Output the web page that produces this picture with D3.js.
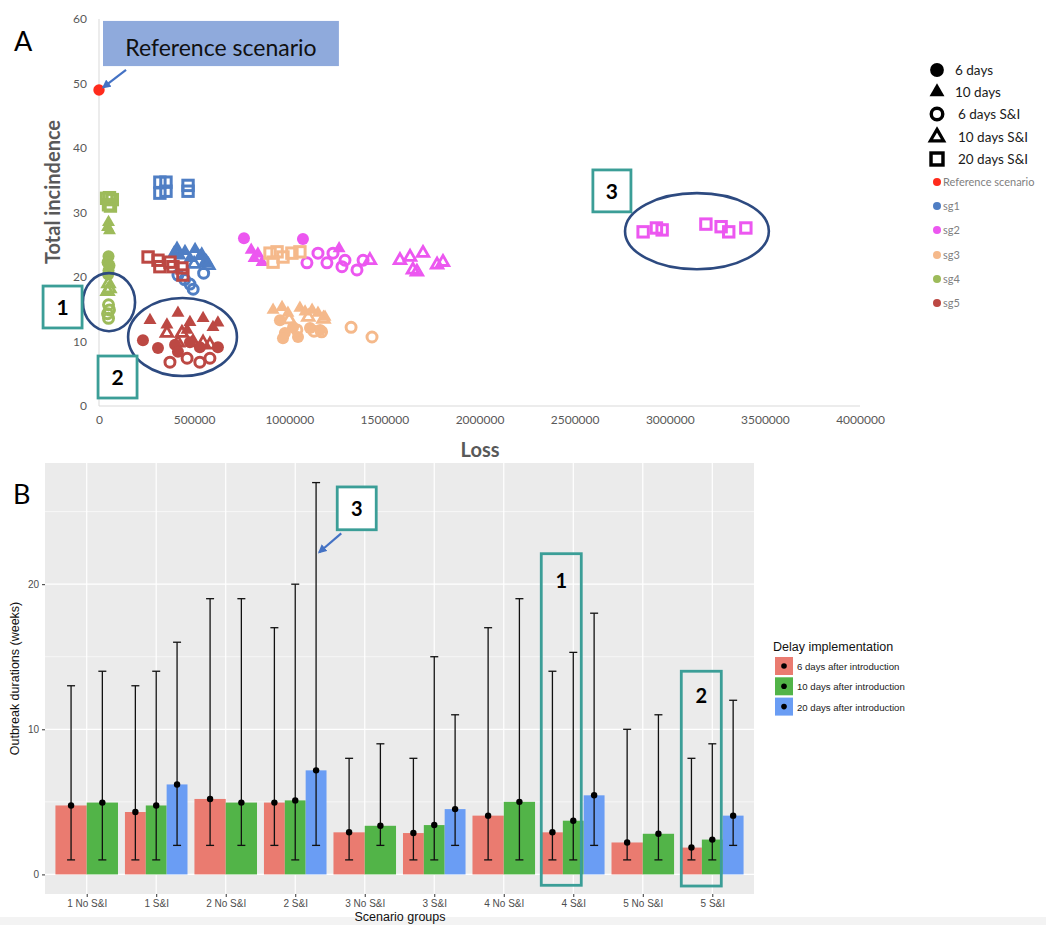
<!DOCTYPE html>
<html><head><meta charset="utf-8">
<script src="https://cdn.jsdelivr.net/npm/d3@7"></script>
<style>body{margin:0;background:#fff}svg{display:block}</style>
</head><body>
<svg id="c" width="1046" height="925"></svg>
<script>
// ---------- Panel A data: [delay, loss, total incidence] ----------
const lossTicks = [0,500000,1000000,1500000,2000000,2500000,3000000,3500000,4000000];
const incTicks = [0,10,20,30,40,50,60];
const delayTypes = ["6 days","10 days","6 days S&I","10 days S&I","20 days S&I"];
const seriesNames = ["Reference scenario","sg1","sg2","sg3","sg4","sg5"];

const refScenario = [["6 days",0,49]];
const sg1 = [
 ["20 days S&I",320000,34.7],["20 days S&I",352000,34.7],["20 days S&I",320000,33.0],["20 days S&I",352000,33.3],["20 days S&I",468000,34.2],["20 days S&I",468000,33.3],
 ["10 days",410000,24.5],["10 days",452000,24.0],["10 days",505000,24.3],["10 days",540000,23.6],["10 days",425000,23.3],["10 days",478000,22.9],["10 days",530000,23.2],["10 days",565000,22.5],["10 days",395000,23.8],
 ["10 days S&I",560000,22.3],["10 days S&I",575000,21.8],["10 days S&I",500000,22.0],
 ["6 days S&I",550000,20.6],["6 days S&I",450000,19.6],["6 days S&I",478000,18.9],["6 days S&I",495000,18.1],["6 days S&I",415000,20.3]
];
const sg2 = [
 ["6 days",762000,26.0],["6 days",1072000,25.9],
 ["10 days",800000,24.2],["10 days",835000,23.6],["10 days",857000,22.3],["10 days",815000,22.9],["10 days",1262000,24.4],
 ["6 days S&I",1093000,22.2],["6 days S&I",1151000,23.7],["6 days S&I",1198000,22.2],["6 days S&I",1230000,23.7],["6 days S&I",1277000,21.6],["6 days S&I",1293000,22.6],["6 days S&I",1356000,21.1],["6 days S&I",1388000,22.6],
 ["10 days S&I",1424000,22.6],["10 days S&I",1582000,22.6],["10 days S&I",1635000,23.1],["10 days S&I",1703000,23.7],["10 days S&I",1650000,21.1],["10 days S&I",1671000,20.8],["10 days S&I",1777000,21.9],["10 days S&I",1808000,22.3],
 ["20 days S&I",2860000,27.0],["20 days S&I",2930000,27.6],["20 days S&I",2960000,27.3],["20 days S&I",3190000,28.2],["20 days S&I",3270000,27.8],["20 days S&I",3310000,27.0],["20 days S&I",3400000,27.6]
];
const sg3 = [
 ["20 days S&I",899000,23.7],["20 days S&I",936000,23.9],["20 days S&I",967000,23.1],["20 days S&I",1014000,23.7],["20 days S&I",1056000,23.9],["20 days S&I",915000,22.3],
 ["10 days",915000,14.9],["10 days",962000,15.3],["10 days",993000,14.4],["10 days",1056000,15.2],["10 days",1083000,14.6],["10 days",1120000,14.9],["10 days",1151000,14.4],["10 days",1188000,13.8],
 ["10 days S&I",1000000,13.4],["10 days S&I",1100000,13.8],["10 days S&I",1180000,13.5],
 ["6 days",951000,13.3],["6 days",977000,11.3],["6 days",1020000,12.2],["6 days",1046000,10.7],["6 days",1109000,12.1],["6 days",1162000,11.8],["6 days",967000,10.5],
 ["6 days S&I",1040000,11.8],["6 days S&I",1130000,11.6],["6 days S&I",1170000,11.5],["6 days S&I",1325000,12.2],["6 days S&I",1435000,10.7]
];
const sg4 = [
 ["20 days S&I",40000,32.2],["20 days S&I",55000,32.3],["20 days S&I",70000,32.0],["20 days S&I",50000,31.2],["20 days S&I",60000,31.0],
 ["10 days",50000,28.5],["10 days",45000,27.7],["10 days",55000,27.2],
 ["6 days",50000,23.2],["6 days",45000,22.3],["6 days",55000,21.8],["6 days",50000,21.0],["6 days",48000,20.4],
 ["10 days S&I",50000,19.0],["10 days S&I",55000,18.2],["10 days S&I",45000,17.8],
 ["6 days S&I",50000,15.7],["6 days S&I",55000,14.9],["6 days S&I",45000,14.3],["6 days S&I",50000,13.6]
];
const sg5 = [
 ["20 days S&I",258000,23.1],["20 days S&I",310000,22.6],["20 days S&I",373000,22.3],["20 days S&I",320000,21.6],["20 days S&I",389000,21.6],["20 days S&I",436000,21.4],["20 days S&I",441000,20.3],
 ["10 days",268000,13.3],["10 days",415000,14.4],["10 days",478000,13.0],["10 days",547000,13.6],["10 days",625000,12.9],["10 days",357000,12.6],["10 days",463000,11.8],["10 days",599000,12.2],
 ["10 days S&I",357000,11.3],["10 days S&I",436000,11.3],["10 days S&I",494000,9.9],["10 days S&I",547000,9.8],["10 days S&I",583000,9.5],["10 days S&I",415000,9.8],
 ["6 days",231000,10.2],["6 days",310000,9.0],["6 days",400000,9.5],["6 days",478000,9.9],["6 days",530000,9.1],["6 days",625000,9.1],["6 days",415000,8.4],
 ["6 days S&I",373000,6.8],["6 days S&I",463000,7.4],["6 days S&I",530000,6.8],["6 days S&I",583000,7.4]
];

// ---------- Panel B data ----------
const scenarioGroups = ["1 No S&I","1 S&I","2 No S&I","2 S&I","3 No S&I","3 S&I","4 No S&I","4 S&I","5 No S&I","5 S&I"];
const delayLabels = ["6 days after introduction","10 days after introduction","20 days after introduction"];
const durTicks = [0,10,20];
const mean6  = [4.75,4.3,5.2,4.95,2.9,2.85,4.05,2.9,2.2,1.85];
const low6   = [1,1,2,2,1,1,1,1,1,1];
const high6  = [13,13,19,17,8,8,17,14,10,8];
const mean10 = [4.95,4.75,4.95,5.1,3.35,3.4,5.0,3.7,2.8,2.4];
const low10  = [1,1,2,1,2,1,1,1,1,1];
const high10 = [14,14,19,20,9,15,19,15.3,11,9];
const mean20 = [null,6.2,null,7.17,null,4.5,null,5.45,null,4.05];
const low20  = [null,2,null,2,null,2,null,2,null,2];
const high20 = [null,16,null,27,null,11,null,18,null,12];

// ---------- drawing ----------
const svg = d3.select("#c");
const fA = "Lato, 'Open Sans', sans-serif";
const fB = "'Liberation Sans', Arial, sans-serif";
const colA = {"Reference scenario":"#FF2B1C","sg1":"#4F7EC4","sg2":"#EC57F0","sg3":"#F5B98B","sg4":"#9DBB5A","sg5":"#BC4843"};
const teal = "#3B9E97", navy = "#2D4A80", arrowCol = "#4472C4";

svg.append("defs").append("marker").attr("id","ah").attr("viewBox","0 0 10 10")
  .attr("refX",8).attr("refY",5).attr("markerWidth",4).attr("markerHeight",4).attr("orient","auto")
  .append("path").attr("d","M0,0L10,5L0,10z").attr("fill",arrowCol);

svg.append("rect").attr("x",0).attr("y",917).attr("width",1046).attr("height",8).attr("fill","#F3F3F3");

// ===== Panel A =====
const xA = d3.scaleLinear().domain([0,4000000]).range([99,860]);
const yA = d3.scaleLinear().domain([0,60]).range([406,19]);
const gA = svg.append("g");

gA.append("line").attr("x1",xA(0)).attr("x2",xA(4000000)).attr("y1",yA(0)).attr("y2",yA(0)).attr("stroke","#D9D9D9").attr("stroke-width",1);
gA.append("line").attr("x1",xA(0)).attr("x2",xA(0)).attr("y1",yA(0)).attr("y2",yA(60)).attr("stroke","#D9D9D9").attr("stroke-width",1);

const axL = gA.append("g").attr("transform",`translate(${xA(0)},0)`)
  .call(d3.axisLeft(yA).tickValues(incTicks).tickSize(0).tickPadding(12));
axL.select(".domain").remove();
axL.selectAll("text").attr("font-family",fA).attr("font-size",12).attr("fill","#595959");
const axB = gA.append("g").attr("transform",`translate(0,${yA(0)})`)
  .call(d3.axisBottom(xA).tickValues(lossTicks).tickSize(0).tickPadding(9).tickFormat(d3.format("d")));
axB.select(".domain").remove();
axB.selectAll("text").attr("font-family",fA).attr("font-size",12).attr("fill","#595959");

gA.append("text").attr("x",480).attr("y",457).attr("text-anchor","middle").attr("font-family",fA)
  .attr("font-weight","bold").attr("font-size",20).attr("fill","#595959").text("Loss");
gA.append("text").attr("transform","translate(60,192) rotate(-90)").attr("text-anchor","middle").attr("font-family",fA)
  .attr("font-weight","bold").attr("font-size",20).attr("fill","#595959").text("Total incindence");
gA.append("text").attr("x",14).attr("y",51).attr("font-family",fA).attr("font-size",27).attr("fill","#000").text("A");

function triPath(s){const h=s*Math.sqrt(3)/2;return `M0,${-h*2/3}L${s/2},${h/3}L${-s/2},${h/3}Z`;}
function marker(g, delay, color, k){
  k = k||1;
  if(delay==="6 days") return g.append("circle").attr("r",6*k).attr("fill",color);
  if(delay==="10 days") return g.append("path").attr("d",triPath(13*k)).attr("fill",color);
  if(delay==="6 days S&I") return g.append("circle").attr("r",5*k).attr("fill","none").attr("stroke",color).attr("stroke-width",3*k);
  if(delay==="10 days S&I") return g.append("path").attr("d",triPath(11.5*k)).attr("fill","none").attr("stroke",color).attr("stroke-width",2.8*k).attr("stroke-linejoin","miter");
  return g.append("rect").attr("x",-5.2*k).attr("y",-5.2*k).attr("width",10.4*k).attr("height",10.4*k).attr("fill","none").attr("stroke",color).attr("stroke-width",3*k);
}
const allSeries = [["Reference scenario",refScenario],["sg1",sg1],["sg2",sg2],["sg3",sg3],["sg4",sg4],["sg5",sg5]];
const pts = gA.append("g");
allSeries.forEach(([name,rows])=>{
  rows.forEach(r=>{
    const g = pts.append("g").attr("transform",`translate(${xA(r[1])},${yA(r[2])})`);
    marker(g, r[0], colA[name], name==="Reference scenario"?0.95:1);
  });
});

// annotations A
gA.append("rect").attr("x",xA(21000)).attr("y",yA(59.7)).attr("width",xA(1261000)-xA(21000)).attr("height",yA(52.7)-yA(59.7)).attr("fill","#8FAADC");
gA.append("text").attr("x",xA(641000)).attr("y",yA(54.3)).attr("text-anchor","middle").attr("font-family",fA).attr("font-size",23).attr("fill","#111").text("Reference scenario");
gA.append("line").attr("x1",xA(142000)).attr("y1",yA(52.1)).attr("x2",xA(22000)).attr("y2",yA(49.4)).attr("stroke",arrowCol).attr("stroke-width",2.2).attr("marker-end","url(#ah)");

function ellA(cx,cy,rx,ry){gA.append("ellipse").attr("cx",xA(cx)).attr("cy",yA(cy)).attr("rx",xA(rx)-xA(0)).attr("ry",yA(0)-yA(ry)).attr("fill","none").attr("stroke",navy).attr("stroke-width",2.6);}
ellA(52600,16.1,137000,4.5);
ellA(439000,10.7,286000,6.05);
ellA(3143000,27.1,378000,5.9);
function boxA(l0,l1,i0,i1,label){
  gA.append("rect").attr("x",xA(l0)).attr("y",yA(i0)).attr("width",xA(l1)-xA(l0)).attr("height",yA(i1)-yA(i0)).attr("fill","#fff").attr("stroke",teal).attr("stroke-width",2.8);
  gA.append("text").attr("x",(xA(l0)+xA(l1))/2).attr("y",(yA(i0)+yA(i1))/2+8).attr("text-anchor","middle").attr("font-family",fA).attr("font-weight","bold").attr("font-size",21).attr("fill","#000").text(label);
}
boxA(-294000,-89000,18.6,12.1,"1");
boxA(-5000,200000,7.75,1.24,"2");
boxA(2596000,2796000,36.6,30.1,"3");

// legend A
const legA = svg.append("g");
delayTypes.forEach((d,i)=>{
  const yy = [70,92,114,137,159][i];
  const g = legA.append("g").attr("transform",`translate(937,${yy})`);
  marker(g,d,"#000",1.15);
  legA.append("text").attr("x",[955,955,958,958,958][i]).attr("y",yy+5).attr("font-family",fA).attr("font-size",13.5).attr("fill","#1a1a1a").text(d);
});
seriesNames.forEach((s,i)=>{
  const yy = [182,206,230,255,279,303][i];
  legA.append("circle").attr("cx",937).attr("cy",yy).attr("r",4).attr("fill",colA[s]);
  legA.append("text").attr("x",943).attr("y",yy+4).attr("font-family",fA).attr("font-size",11).attr("fill","#7F7F7F").text(s);
});

// ===== Panel B =====
const xB = d3.scalePoint().domain(scenarioGroups).range([45,754]).padding(0.6);
const yB = d3.scaleLinear().domain([-1.35,28.35]).range([894,463]);
const step = xB.step();
const barCols = ["#EA7B70","#52B448","#6A9DF4"];
const gB = svg.append("g");

gB.append("rect").attr("x",45).attr("y",463).attr("width",709).attr("height",431).attr("fill","#EBEBEB");
[5,15,25].forEach(v=>gB.append("line").attr("x1",45).attr("x2",754).attr("y1",yB(v)).attr("y2",yB(v)).attr("stroke","#fff").attr("stroke-width",0.6));
durTicks.forEach(v=>gB.append("line").attr("x1",45).attr("x2",754).attr("y1",yB(v)).attr("y2",yB(v)).attr("stroke","#fff").attr("stroke-width",1.2));
scenarioGroups.forEach(c=>gB.append("line").attr("x1",xB(c)).attr("x2",xB(c)).attr("y1",463).attr("y2",894).attr("stroke","#fff").attr("stroke-width",1.2));

const means=[mean6,mean10,mean20], lows=[low6,low10,low20], highs=[high6,high10,high20];
const bars=[];
scenarioGroups.forEach((c,i)=>{
  const present=[0,1,2].filter(j=>means[j][i]!==null);
  const w=0.9*step/present.length;
  present.forEach((j,k)=>{
    const x0=xB(c)-0.45*step+k*w;
    bars.push({x0,w,j,m:means[j][i],lo:lows[j][i],hi:highs[j][i]});
  });
});
gB.selectAll("rect.bar").data(bars).join("rect").attr("class","bar")
  .attr("x",d=>d.x0).attr("width",d=>d.w).attr("y",d=>yB(d.m)).attr("height",d=>yB(0)-yB(d.m)).attr("fill",d=>barCols[d.j]);
const eb = gB.selectAll("g.eb").data(bars).join("g").attr("class","eb");
eb.append("line").attr("x1",d=>d.x0+d.w/2).attr("x2",d=>d.x0+d.w/2).attr("y1",d=>yB(d.lo)).attr("y2",d=>yB(d.hi)).attr("stroke","#111").attr("stroke-width",1.3);
eb.append("line").attr("x1",d=>d.x0+d.w/2-4).attr("x2",d=>d.x0+d.w/2+4).attr("y1",d=>yB(d.lo)).attr("y2",d=>yB(d.lo)).attr("stroke","#111").attr("stroke-width",1.3);
eb.append("line").attr("x1",d=>d.x0+d.w/2-4).attr("x2",d=>d.x0+d.w/2+4).attr("y1",d=>yB(d.hi)).attr("y2",d=>yB(d.hi)).attr("stroke","#111").attr("stroke-width",1.3);
eb.append("circle").attr("cx",d=>d.x0+d.w/2).attr("cy",d=>yB(d.m)).attr("r",3.2).attr("fill","#000");

// axes B
const axBL = gB.append("g").attr("transform","translate(45,0)").call(d3.axisLeft(yB).tickValues(durTicks).tickSize(3).tickPadding(3));
axBL.select(".domain").remove();
axBL.selectAll("line").attr("stroke","#333");
axBL.selectAll("text").attr("font-family",fB).attr("font-size",10).attr("fill","#4D4D4D");
const axBB = gB.append("g").attr("transform","translate(0,894)").call(d3.axisBottom(xB).tickSize(3).tickPadding(3));
axBB.select(".domain").remove();
axBB.selectAll("line").attr("stroke","#333");
axBB.selectAll("text").attr("font-family",fB).attr("font-size",10).attr("fill","#4D4D4D");

gB.append("text").attr("x",400).attr("y",921).attr("text-anchor","middle").attr("font-family",fB).attr("font-size",12.5).attr("fill","#111").text("Scenario groups");
gB.append("text").attr("transform",`translate(19,${(463+894)/2}) rotate(-90)`).attr("text-anchor","middle").attr("font-family",fB).attr("font-size",12.5).attr("fill","#111").text("Outbreak durations (weeks)");
svg.append("text").attr("x",13).attr("y",504).attr("font-family",fA).attr("font-size",27).attr("fill","#000").text("B");

// annotations B
function boxB(cat,dx0,dx1,v0,v1,label,fill,ly){
  const x0=xB(cat)+dx0, x1=xB(cat)+dx1;
  gB.append("rect").attr("x",x0).attr("y",yB(v0)).attr("width",x1-x0).attr("height",yB(v1)-yB(v0)).attr("fill",fill).attr("stroke",teal).attr("stroke-width",2.8);
  gB.append("text").attr("x",(x0+x1)/2).attr("y",ly).attr("text-anchor","middle").attr("font-family",fA).attr("font-weight","bold").attr("font-size",20).attr("fill","#000").text(label);
}
boxB("2 S&I",42,81,26.7,23.75,"3","#fff",yB(25.2)+7);
boxB("4 S&I",-32,8,22.1,-0.75,"1","none",yB(20.2)+7);
boxB("5 S&I",-31,9,14.0,-0.8,"2","none",yB(12.3)+7);
gB.append("line").attr("x1",xB("2 S&I")+46).attr("y1",yB(23.5)).attr("x2",xB("2 S&I")+24).attr("y2",yB(22.2)).attr("stroke",arrowCol).attr("stroke-width",2.2).attr("marker-end","url(#ah)");

// legend B
const legB = svg.append("g");
legB.append("text").attr("x",773).attr("y",651).attr("font-family",fB).attr("font-size",12.5).attr("fill","#111").text("Delay implementation");
delayLabels.forEach((d,i)=>{
  const yy=657+i*20.3;
  legB.append("rect").attr("x",775).attr("y",yy).attr("width",18).attr("height",18).attr("fill",barCols[i]);
  legB.append("circle").attr("cx",784).attr("cy",yy+9).attr("r",2.8).attr("fill","#000");
  legB.append("text").attr("x",797).attr("y",yy+13).attr("font-family",fB).attr("font-size",9.6).attr("fill","#222").text(d);
});
</script></body></html>
